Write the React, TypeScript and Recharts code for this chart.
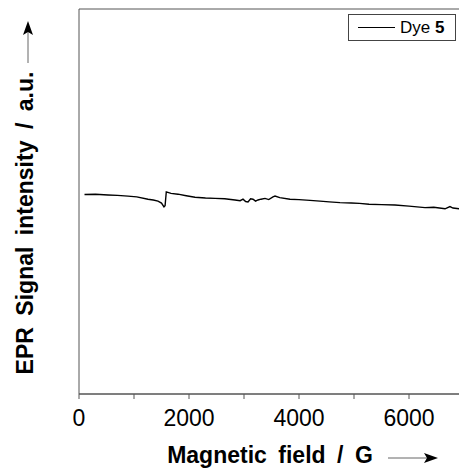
import { LineChart, Line, XAxis, YAxis, ReferenceArea } from 'recharts'

// EPR spectrum (field in G, intensity in arbitrary units)
const fieldG = [
  100, 300, 527, 700, 891, 1050, 1255, 1350, 1436, 1500, 1545, 1565, 1587, 1630, 1673, 1800, 1950, 2109, 2300,
  2473, 2650, 2836, 2930, 2982, 3030, 3073, 3120, 3164, 3210, 3255, 3310, 3382, 3450, 3527, 3564, 3650, 3836,
  4000, 4200, 4382, 4550, 4745, 4950, 5100, 5273, 5500, 5745, 6000, 6291, 6450, 6655, 6745, 6800, 6909, 7000,
]
const signal = [
  51.8, 51.9, 51.7, 51.6, 51.4, 51.2, 50.6, 50.4, 50.1, 49.6, 48.6, 48.9, 52.5, 52.3, 52.1, 51.9, 51.5, 51.1, 50.9,
  50.8, 50.7, 50.4, 50.2, 50.6, 50.0, 49.9, 50.7, 50.6, 50.1, 50.4, 50.6, 50.8, 50.5, 51.2, 51.4, 51.0, 50.6,
  50.5, 50.3, 50.1, 49.9, 49.7, 49.6, 49.5, 49.3, 49.2, 49.1, 48.8, 48.4, 48.5, 48.1, 48.7, 48.3, 48.1, 48.2,
]
const xTicks = [0, 1000, 2000, 3000, 4000, 5000, 6000, 7000]
const seriesName = 'Dye'
const seriesNumber = '5'
const xTitle = 'Magnetic\u2002field\u2002/\u2002G'
const yTitle = 'EPR\u2002Signal\u2002intensity\u2002/\u2002a.u.'

const data = fieldG.map((f, i) => ({ field: f, signal: signal[i] }))

const FONT = '"Liberation Sans", Arial, sans-serif'

function LegendBox() {
  return (
    <div
      style={{
        position: 'absolute',
        left: 348,
        top: 14,
        width: 106,
        height: 25,
        border: '1px solid #444',
        background: '#fff',
        display: 'flex',
        alignItems: 'center',
        fontFamily: FONT,
        fontSize: 17,
        color: '#000',
      }}
    >
      <div style={{ width: 37, height: 0, borderTop: '1px solid #000', marginLeft: 9, marginRight: 5 }} />
      <span>
        {seriesName} <b>{seriesNumber}</b>
      </span>
    </div>
  )
}

export default function App() {
  return (
    <div
      style={{
        position: 'absolute',
        left: 0,
        top: 0,
        width: 459,
        height: 475,
        overflow: 'hidden',
        background: '#fff',
        fontFamily: FONT,
      }}
    >
      <LineChart width={464} height={475} data={data} margin={{ top: 9, right: 0, left: 79, bottom: 0 }}>
        <XAxis
          dataKey="field"
          type="number"
          domain={[0, 7000]}
          ticks={xTicks}
          tickFormatter={(v: number) => (v % 2000 === 0 ? String(v) : '')}
          height={81}
          tickSize={5}
          tickMargin={11}
          stroke="#555"
          tick={{ fontSize: 23, fill: '#000', fontFamily: FONT }}
          interval={0}
        />
        <YAxis type="number" domain={[0, 100]} hide />
        <ReferenceArea x1={0} x2={7000} y1={0} y2={100} fill="none" stroke="#555" strokeWidth={1} />
        <Line
          type="linear"
          dataKey="signal"
          name="Dye 5"
          stroke="#000"
          strokeWidth={1.4}
          dot={false}
          isAnimationActive={false}
        />
      </LineChart>

      <LegendBox />

      <svg width={459} height={475} style={{ position: 'absolute', left: 0, top: 0, pointerEvents: 'none' }}>
        <text x={270} y={463} textAnchor="middle" fontSize={23} fontWeight="bold" fill="#000" fontFamily={FONT}>
          {xTitle}
        </text>
        <line x1={388} y1={458} x2={430} y2={458} stroke="#666" strokeWidth={1} />
        <polygon points="438,458 424,453 427,458 424,463" fill="#000" />

        <text
          x={0}
          y={0}
          transform="translate(33,223) rotate(-90)"
          textAnchor="middle"
          fontSize={23}
          fontWeight="bold"
          fill="#000"
          fontFamily={FONT}
        >
          {yTitle}
        </text>
        <line x1={28} y1={63} x2={28} y2={29} stroke="#666" strokeWidth={1} />
        <polygon points="28,21 23,35 28,32 33,35" fill="#000" />
      </svg>
    </div>
  )
}
